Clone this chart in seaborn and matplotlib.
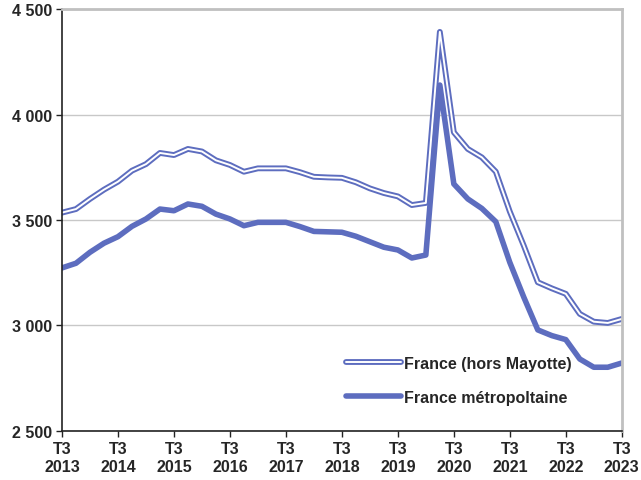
import numpy as np
import pandas as pd
import seaborn as sns
import matplotlib.pyplot as plt
import matplotlib.patheffects as pe

# Quarterly values, T3 2013 -> T3 2023
years = list(range(2013, 2024))
hors_mayotte = [3535, 3552, 3600, 3644, 3682, 3734, 3765, 3818, 3808, 3837,
                3825, 3783, 3761, 3729, 3745, 3745, 3745, 3727, 3705, 3702,
                3700, 3679, 3650, 3628, 3612, 3571, 3581, 4392, 3916, 3837,
                3797, 3729, 3540, 3378, 3205, 3176, 3150, 3055, 3018, 3012,
                3031]
metropole = [3273, 3295, 3347, 3390, 3421, 3470, 3505, 3552, 3544, 3576,
             3565, 3528, 3505, 3473, 3489, 3489, 3489, 3469, 3446, 3444,
             3442, 3423, 3397, 3371, 3358, 3320, 3334, 4140, 3671, 3600,
             3555, 3492, 3299, 3134, 2979, 2952, 2933, 2841, 2802, 2802,
             2822]
xtick_labels = ["T3\n" + str(y) for y in years]

df = pd.DataFrame({"q": np.arange(len(metropole)),
                   "hors": hors_mayotte, "metro": metropole})

sns.set_style("white")
plt.rcParams["font.family"] = ["Liberation Sans", "DejaVu Sans"]

blue = "#5d6dbf"
fs = 11.5
fig = plt.figure(figsize=(6.41, 4.81), dpi=100)
ax = fig.add_axes([0.0967, 0.102, 0.8733, 0.877])

sns.lineplot(data=df, x="q", y="hors", ax=ax, color="white", linewidth=1.4,
             label="France (hors Mayotte)",
             path_effects=[pe.Stroke(linewidth=4.2, foreground=blue), pe.Normal()])
sns.lineplot(data=df, x="q", y="metro", ax=ax, color=blue, linewidth=4.0,
             label="France métropoltaine")

ax.set_xlim(0, 40)
ax.set_ylim(2500, 4500)
ax.set_xticks(np.arange(0, 41, 4))
ax.set_xticklabels(xtick_labels, fontsize=fs, fontweight="bold", linespacing=1.25)
yt = [2500, 3000, 3500, 4000, 4500]
ax.set_yticks(yt)
ax.set_yticklabels([f"{v:,}".replace(",", " ") for v in yt], fontsize=fs, fontweight="bold")
ax.set_xlabel("")
ax.set_ylabel("")
ax.grid(axis="y", color="#c8c8c8", linewidth=1.0)
ax.set_axisbelow(True)

for s in ["left", "bottom"]:
    ax.spines[s].set_color("#222222")
    ax.spines[s].set_linewidth(1.2)
for s in ["top", "right"]:
    ax.spines[s].set_color("#c0c0c0")
    ax.spines[s].set_linewidth(2.0)
ax.tick_params(axis="both", direction="out", length=4, width=1, color="#222222",
               left=True, bottom=True, pad=3)

leg = ax.legend(loc="lower left", bbox_to_anchor=(0.507, 0.062), frameon=False,
                borderpad=0, borderaxespad=0,
                handlelength=3.45, handletextpad=0.22, labelspacing=1.2,
                prop={"weight": "bold", "size": fs})

fig.savefig("out.png", dpi=100)
